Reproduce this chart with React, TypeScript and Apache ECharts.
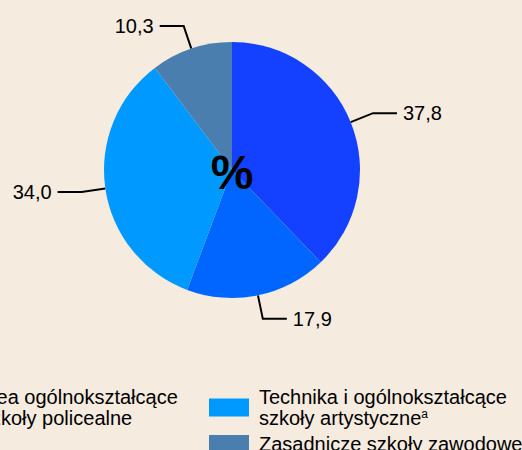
import React, { useEffect, useRef } from "react";
import * as echarts from "echarts";

const categories = [
  "Gimnazja",
  "Licea ogólnokształcące i szkoły policealne",
  "Technika i ogólnokształcące szkoły artystyczne",
  "Zasadnicze szkoły zawodowe",
];
const values = [37.8, 17.9, 34.0, 10.3];
const colors = ["#1440ff", "#0066ff", "#0099ff", "#4a7eaf"];
const legendLeftItems = [categories[1]];
const legendRightItems = [categories[2], categories[3]];
const legendLabels: Record<string, string> = {
  [categories[1]]: "{t|Licea ogólnokształcące}\n{t|i szkoły policealne}",
  [categories[2]]: "{t|Technika i ogólnokształcące}\n{t|szkoły artystyczne}{s|a}",
  [categories[3]]: "{t|Zasadnicze szkoły zawodowe}",
};
const centerText = "%";

export default function App() {
  const ref = useRef<HTMLDivElement>(null);
  useEffect(() => {
    if (!ref.current) return;
    const chart = echarts.init(ref.current, undefined, { renderer: "svg" });
    const font = "Liberation Sans, Arial, sans-serif";
    const legendCommon = {
      orient: "vertical" as const,
      top: 382,
      itemWidth: 40,
      itemHeight: 18,
      itemGap: 6,
      icon: "rect",
      selectedMode: false,
      formatter: (name: string) => legendLabels[name] || name,
      textStyle: {
        padding: [0, 0, 0, 5],
        rich: {
          t: { fontSize: 20, lineHeight: 21, color: "#000", fontFamily: font },
          s: { fontSize: 12, lineHeight: 21, color: "#000", fontFamily: font, verticalAlign: "top", padding: [0, 0, 8, 0] },
        },
      },
    };
    chart.setOption({
      animation: false,
      backgroundColor: "#f5ebdf",
      color: colors,
      legend: [
        { ...legendCommon, left: -84, data: legendLeftItems },
        { ...legendCommon, left: 204, data: legendRightItems },
      ],
      graphic: [
        {
          type: "text",
          x: 232,
          y: 172,
          style: {
            text: centerText,
            fontSize: 48,
            fontWeight: "bold",
            fontFamily: font,
            fill: "#000",
            align: "center",
            verticalAlign: "middle",
          },
          z: 100,
        },
      ],
      series: [
        {
          type: "pie",
          center: [232, 170],
          radius: [0, 128],
          startAngle: 90,
          clockwise: true,
          avoidLabelOverlap: false,
          emphasis: { disabled: true },
          itemStyle: { borderWidth: 0 },
          label: {
            show: true,
            position: "outside",
            fontSize: 20,
            fontFamily: font,
            color: "#000",
            distanceToLabelLine: 6,
            formatter: (p: any) => Number(p.value).toFixed(1).replace(".", ","),
          },
          labelLine: {
            show: true,
            length: 24,
            length2: 24,
            smooth: false,
            lineStyle: { color: "#000", width: 2 },
          },
          data: categories.map((c, i) => ({ name: c, value: values[i] })),
        },
      ],
    });
    return () => chart.dispose();
  }, []);
  return (
    <div
      ref={ref}
      style={{ position: "absolute", left: 0, top: 0, width: 522, height: 450 }}
    />
  );
}
